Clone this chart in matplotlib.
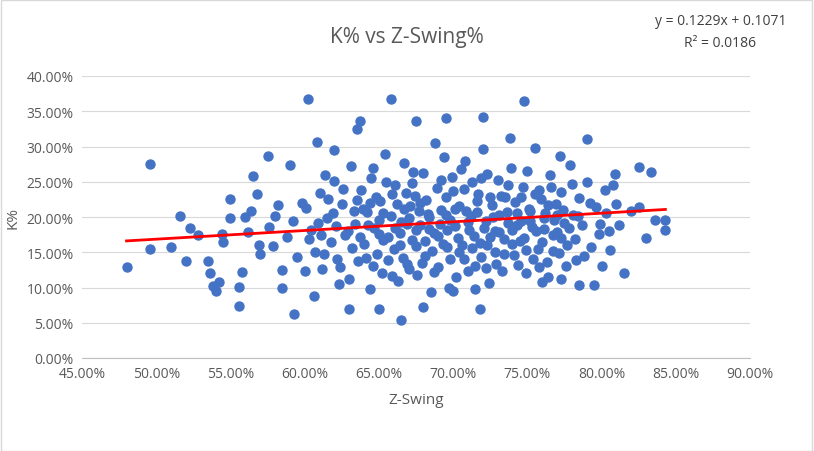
import numpy as np
import matplotlib.pyplot as plt
from matplotlib.ticker import FuncFormatter

# Z-Swing % and K %
edge_x = [48, 49.6, 49.6, 51, 51.6, 52, 52.3, 52.8, 53.5, 53.6, 53.8, 54, 54.2, 54.4, 54.5, 55, 55, 55.6, 55.6, 55.8,
          56, 56.4, 56.5, 56.8, 57, 57.5, 58, 58.5, 58.5, 59, 59.3, 60.2, 60.6, 60.8, 62, 63, 63.5, 63.7, 65, 65.8,
          66.5, 67.5, 68, 69.5, 70, 71.5, 71.8, 72, 74.8, 76, 77.3, 78.5, 79, 79.5, 80, 80.5, 80.8, 81.5, 82, 82.5,
          82.5, 83, 83.3, 83.6, 84.3, 84.3, 80.9, 80.2]
edge_y = [12.9, 27.5, 15.5, 15.8, 20.1, 13.7, 18.5, 17.5, 13.7, 12, 10.2, 9.5, 10.8, 17.6, 16.4, 19.8, 22.5, 7.4, 10.1, 12.2,
          20, 20.9, 25.8, 23.3, 14.8, 28.6, 20.2, 10, 12.5, 27.4, 6.3, 36.8, 8.8, 30.7, 29.5, 7, 32.5, 33.6, 6.9, 36.8,
          5.4, 33.6, 7.2, 34.1, 9.5, 9.8, 6.9, 34.2, 36.5, 10.8, 11.2, 10.3, 31, 10.4, 13, 18, 24.5, 12, 20.9, 21.4,
          27.1, 17, 26.4, 19.6, 19.6, 18.2, 26.1, 23.8]
cloud = """60.1 21.3 60.4 18.2 60.7 15.1 61.0 23.4 61.2 12.6 61.5 19.8 61.8 16.4 62.0 25.1 62.2 14.0 62.5 21.9
62.7 17.5 63.0 11.2 63.1 27.2 63.4 19.0 63.6 13.8 63.8 23.9 64.0 16.1 64.2 20.7 64.4 9.8 64.5 25.6
64.7 18.4 64.9 14.7 65.1 22.3 65.2 12.1 65.4 29.0 65.6 17.2 65.8 20.1 66.0 15.4 66.1 24.6 66.3 10.9
66.5 19.3 66.7 27.7 66.9 13.3 67.1 21.5 67.2 16.8 67.4 23.0 67.6 11.8 67.8 18.9 68.0 26.2 68.1 14.4
68.3 20.4 68.5 9.4 68.7 17.7 68.9 24.1 69.0 12.9 69.2 21.0 69.4 28.5 69.6 15.8 69.8 19.6 70.0 23.7
70.2 11.5 70.3 17.0 70.5 26.8 70.7 14.1 70.9 20.9 71.1 18.1 71.3 24.9 71.5 13.0 71.6 22.2 71.8 16.3
72.0 29.6 72.2 19.4 72.4 10.6 72.6 21.7 72.8 15.0 73.0 25.3 73.1 17.9 73.3 12.4 73.5 22.8 73.7 19.1
73.9 27.0 74.1 14.6 74.3 20.6 74.5 16.6 74.7 24.3 74.9 12.0 75.1 21.2 75.3 18.6 75.5 29.8 75.7 15.5
75.9 22.5 76.1 19.9 76.3 13.6 76.5 25.9 76.7 17.4 76.9 21.8 77.1 14.9 77.3 23.6 77.5 19.2 77.7 16.0
77.9 27.4 78.1 20.3 78.3 13.9 78.5 22.7 78.7 18.8 79.0 25.0 79.3 15.7 79.6 21.4 79.9 19.0
58.8 17.1 59.2 19.5 59.5 14.3 59.8 22.0 60.0 12.4 57.6 18.6 57.9 15.9 58.2 21.7 56.2 17.9 56.9 16.0
61.4 26.0 61.9 20.5 62.3 10.5 62.9 18.0 63.2 15.6 63.9 21.1 64.3 18.9 64.6 13.1 64.8 22.9 65.0 19.6
65.3 16.7 65.5 25.0 65.9 11.6 66.2 21.8 66.4 17.8 66.6 14.2 66.8 23.4 67.0 19.9 67.3 26.4 67.5 15.9
67.7 20.8 67.9 13.5 68.2 22.4 68.4 18.3 68.6 15.2 68.8 30.5 69.1 19.0 69.3 16.2 69.5 22.9 69.7 10.0
69.9 25.7 70.1 18.7 70.4 21.6 70.6 16.0 70.8 28.0 71.0 12.3 71.2 20.2 71.4 17.3 71.7 23.3 71.9 14.3
72.1 18.5 72.3 26.1 72.5 17.1 72.7 20.0 72.9 13.4 73.2 23.0 73.4 16.9 73.6 20.7 73.8 31.2 74.0 18.2
74.2 22.1 74.4 13.2 74.6 19.5 74.8 17.0 75.0 26.5 75.2 20.8 75.4 14.0 75.6 18.0 75.8 23.9 76.0 16.4
76.2 20.5 76.4 11.5 76.6 24.2 76.8 19.6 77.0 17.9 77.2 28.7 77.4 21.0 77.6 13.1 77.8 18.4 78.0 24.7
78.2 16.9 78.4 20.2 78.8 14.5 79.2 22.0 79.8 17.6 80.3 20.5 80.6 15.3 81.2 18.8 81.0 21.9
60.3 16.9 60.9 19.2 61.3 14.8 61.6 22.6 62.1 18.7 62.4 12.9 62.6 24.0 63.3 20.9 63.7 17.2 64.1 14.2
64.4 22.0 64.6 27.0 65.0 17.6 65.3 20.6 65.6 13.9 65.9 23.3 66.1 18.5 66.4 16.0 66.7 21.2 67.0 12.6
67.2 24.8 67.5 18.1 67.8 22.0 68.1 16.6 68.4 20.0 68.7 12.2 69.0 17.3 69.2 25.2 69.5 20.3 69.8 14.0
70.1 21.1 70.4 15.1 70.7 24.0 71.0 19.3 71.3 15.6 71.6 20.7 71.9 25.5 72.2 12.8 72.5 22.8 72.8 18.0
73.1 20.3 73.4 14.8 73.7 24.5 74.0 16.1 74.3 18.8 74.6 22.9 74.9 15.3 75.2 19.4 75.5 23.2 75.8 12.9
76.1 18.3 76.4 21.7 76.7 15.2 77.0 20.3 77.3 17.0 61.1 17.4 63.5 22.4 66.9 19.0 69.6 18.2 72.3 16.0"""
vals = [float(v) for v in cloud.split()]
cloud_x = vals[0::2]
cloud_y = vals[1::2]

z_swing = np.array(edge_x + cloud_x) / 100
k_pct = np.array(edge_y + cloud_y) / 100
slope, intercept = 0.1229, 0.1071
trend_x = np.array([0.48, 0.843])

plt.rcParams['font.family'] = ['Open Sans', 'DejaVu Sans']
fig = plt.figure(figsize=(8.14, 4.52), dpi=100)
ax = fig.add_axes([82/814, 93/452, 668/814, 282/452])

ax.scatter(z_swing, k_pct, s=42, color='#4472C4', zorder=3)
ax.plot(trend_x, slope * trend_x + intercept, color='#FF0000', linewidth=2, zorder=4)

ax.set_xlim(0.45, 0.90)
ax.set_ylim(0, 0.40)
ax.set_xticks(np.arange(0.45, 0.901, 0.05))
ax.set_yticks(np.arange(0, 0.401, 0.05))
pct = FuncFormatter(lambda v, p: f"{v*100:.2f}%")
ax.xaxis.set_major_formatter(pct)
ax.yaxis.set_major_formatter(pct)
ax.tick_params(length=0, labelsize=10, colors='#595959', pad=6)
ax.grid(axis='y', color='#D9D9D9', linewidth=0.8, zorder=0)
for s in ['top', 'right', 'left']:
    ax.spines[s].set_visible(False)
ax.spines['bottom'].set_color('#BFBFBF')

ax.set_xlabel('Z-Swing', fontsize=11, color='#595959', labelpad=8)
ax.set_ylabel('K%', fontsize=11, color='#595959')
fig.text(0.5, 0.905, 'K% vs Z-Swing%', ha='center', fontsize=15, color='#595959')
fig.text(0.885, 0.945, 'y = 0.1229x + 0.1071', ha='center', fontsize=10, color='#404040')
fig.text(0.885, 0.895, 'R² = 0.0186', ha='center', fontsize=10, color='#404040')

fig.patches.append(plt.Rectangle((0.001, 0.001), 0.997, 0.997, transform=fig.transFigure,
                                 fill=False, edgecolor='#D9D9D9', linewidth=1))
fig.savefig('out.png', dpi=100)
